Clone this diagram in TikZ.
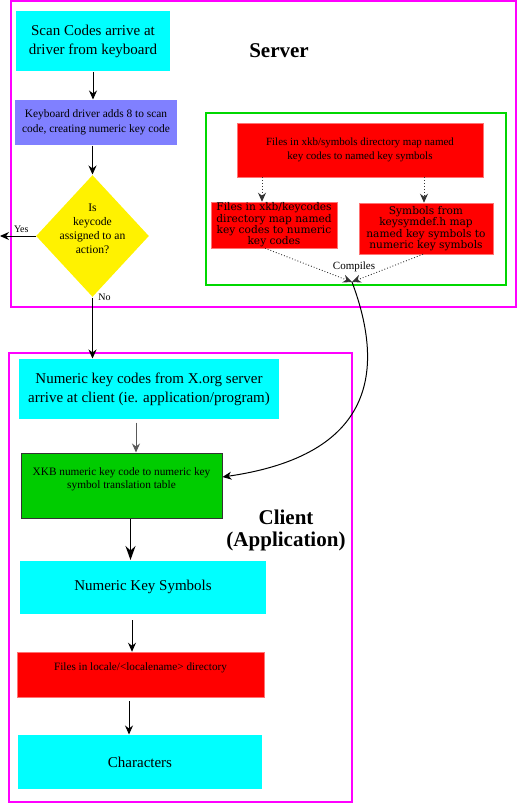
\documentclass[tikz,border=0pt]{standalone}
\usepackage{fontspec}
\setmainfont{Liberation Serif}
\newfontfamily\widefont{DejaVu Serif}
\usetikzlibrary{shapes.geometric,arrows.meta}
\definecolor{aqua}{HTML}{00FFFF}
\definecolor{lav}{HTML}{8080FF}
\definecolor{leaf}{HTML}{00CC00}
\definecolor{frame}{HTML}{00D800}
\definecolor{mag}{HTML}{FF00FF}
\begin{document}
\begin{tikzpicture}[x=1pt,y=-1pt,line width=1pt,>={Stealth[length=9pt,width=8pt]},
  box/.style={rectangle,inner sep=0pt,align=center},
  redbox/.style={box,fill=red,draw=red!55!white,line width=.5pt},
  big/.style={font=\fontsize{15}{19}\selectfont},
  wide/.style={font=\widefont\fontsize{10.6}{9.8}\selectfont}]
\useasboundingbox (0,0) rectangle (518,803);

%server side
\draw[mag,line width=1.5pt](11,1)rectangle(516,307);
\node(srv)[font=\bfseries\fontsize{21}{25}\selectfont]at(279,51){Server};

\node(scan)[box,fill=aqua,minimum width=154pt,minimum height=60pt,big]at(93,41){Scan Codes arrive at\\driver from keyboard};
\node(drv)[box,fill=lav,minimum width=162pt,minimum height=45pt,font=\fontsize{11.4}{15}\selectfont]at(96,122.5){Keyboard driver adds 8 to scan\\code, creating numeric key code};
\node(isk)[diamond,fill=yellow,inner sep=-20pt,minimum width=113pt,minimum height=122pt]at(92.5,236){};
\node(isktxt)[align=center,font=\fontsize{11.6}{14}\selectfont]at(92.5,229){Is\\keycode\\assigned to an\\action?};
\coordinate(yes)at(0,236);

\draw[->](scan.south)--(scan.south|-drv.north);
\draw[->](isk.north|-drv.south)--(isk.north);
\draw[->](isk.west)--(yes)node[pos=.4,above,font=\fontsize{10}{12}\selectfont]{Yes};

\draw[frame,line width=2.5pt](206,113)rectangle(506,285);
\node(sym)[redbox,minimum width=246pt,minimum height=54pt,font=\fontsize{11}{14}\selectfont]at(360,150){Files in xkb/symbols directory map named\\key codes to named key symbols};
\node(kc)[redbox,minimum width=126pt,minimum height=46pt,wide]at(274,225){Files in xkb/keycodes\\directory map named\\key codes to numeric\\key codes};
\node(ks)[redbox,minimum width=134pt,minimum height=51pt,wide]at(426,228.5){Symbols from\\keysymdef.h map\\named key symbols to\\numeric key symbols};
\coordinate(cmp)at(352,282);
\node(cl)[font=\fontsize{11}{13}\selectfont]at(354,267){Compiles};

\begin{scope}[dotted,line width=.9pt,black!80]
\draw[->]([xshift=-12pt]kc.north|-sym.south)--([xshift=-12pt]kc.north);
\draw[->]([xshift=-2pt]ks.north|-sym.south)--([xshift=-2pt]ks.north);
\draw[->]([xshift=-9pt]kc.south)--(cmp);
\draw[->]([xshift=-3pt]ks.south)--(cmp);
\end{scope}

%client side
\draw[mag,line width=1.5pt](9,353)rectangle(352,802);
\node(cli)[font=\bfseries\fontsize{21}{22}\selectfont,align=center]at(286,530){Client\\(Application)};

\node(nkc)[box,fill=aqua,minimum width=260pt,minimum height=60pt,big]at(149,389){Numeric key codes from X.org server\\arrive at client (ie. application/program)};
\node(tbl)[box,fill=leaf,draw=black!80,minimum width=201pt,minimum height=65pt]at(121.5,485.5){};
\node(tbltxt)[align=center,font=\fontsize{11.3}{13}\selectfont]at(121.5,479.5){XKB numeric key code to numeric key\\symbol translation table};
\node(sym2)[box,fill=aqua,minimum width=246pt,minimum height=53pt,big]at(143,587){Numeric Key Symbols};
\node(loc)[redbox,minimum width=247pt,minimum height=45pt]at(140.5,674.5){};
\node(loctxt)[font=\fontsize{11.2}{13}\selectfont]at(140.5,668){Files in locale/<localename> directory};
\node(chr)[box,fill=aqua,minimum width=244pt,minimum height=54pt,big]at(140,762){Characters};

\draw[->](isk.south)--(isk.south|-nkc.north)node[pos=0,right,xshift=2pt,font=\fontsize{10}{12}\selectfont]{No};
\draw[->](cmp)..controls(385,370)and(375,455)..([yshift=8.5pt]tbl.east);
\draw[->,black!65,shorten <=3pt]([xshift=-13pt]nkc.south)--([xshift=-13pt]nkc.south|-tbl.north);
\draw[-{Stealth[length=14pt,width=10pt]},line width=1.5pt]([xshift=9pt]tbl.south)--([xshift=9pt]tbl.south|-sym2.north);
\draw[->,shorten <=6pt]([xshift=-11pt]sym2.south)--([xshift=-11pt]sym2.south|-loc.north);
\draw[->,shorten <=4pt]([xshift=-11.5pt]loc.south)--([xshift=-11.5pt]loc.south|-chr.north);
\end{tikzpicture}
\end{document}
